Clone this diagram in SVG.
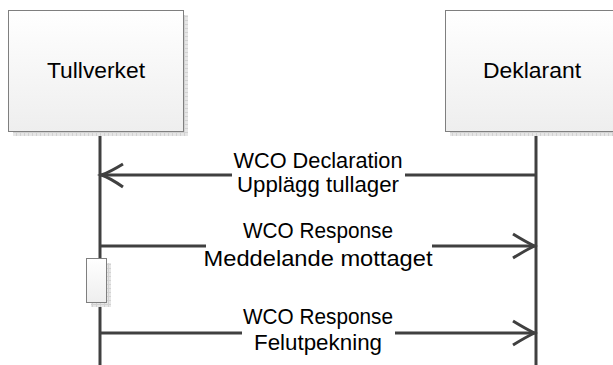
<svg xmlns="http://www.w3.org/2000/svg" width="613" height="365" viewBox="0 0 613 365">
  <defs>
    <linearGradient id="boxFill" x1="0" y1="0" x2="0" y2="1">
      <stop offset="0" stop-color="#ffffff"/>
      <stop offset="1" stop-color="#eeeeee"/>
    </linearGradient>
    <pattern id="shadowHatch" width="4" height="4" patternUnits="userSpaceOnUse">
      <rect width="4" height="4" fill="#e6e6e6"/>
      <path d="M0 0.5H4M0.5 0V4" stroke="#d2d2d2" stroke-width="1"/>
    </pattern>
  </defs>
  <style>
    .box { fill: url(#boxFill); stroke: #7f7f7f; stroke-width: 1; }
    .shadow { fill: url(#shadowHatch); }
    .life { stroke: #404040; stroke-width: 3; fill: none; }
    .msg { stroke: #404040; stroke-width: 3; fill: none; }
    .head { stroke: #404040; stroke-width: 3; fill: none; stroke-linecap: butt; }
    .lbl { font-family: "Liberation Sans", Arial, sans-serif; font-size: 22.5px; fill: #000; text-anchor: middle; }
    .bg { fill: #ffffff; }
  </style>
  <rect width="613" height="365" fill="#ffffff"/>

  <g id="connectors">
    <g id="lifeline-tullverket"><line class="life" x1="100" y1="131" x2="100" y2="365"/></g>
    <g id="lifeline-deklarant"><line class="life" x1="536" y1="131" x2="536" y2="365"/></g>

    <g id="msg1">
      <line class="msg" x1="536" y1="175" x2="101" y2="175"/>
      <path class="head" d="M123 164 Q110 172 101.5 175 Q110 178 123 187"/>
      <rect class="bg" x="232" y="150" width="173" height="48"/>
      <text class="lbl" x="318" y="168" textLength="169" lengthAdjust="spacingAndGlyphs">WCO Declaration</text>
      <text class="lbl" x="318" y="192" textLength="162" lengthAdjust="spacingAndGlyphs">Upplägg tullager</text>
    </g>

    <g id="msg2">
      <line class="msg" x1="100" y1="246" x2="535" y2="246"/>
      <path class="head" d="M513 234 Q526 242 534.5 246 Q526 250 513 258"/>
      <rect class="bg" x="206" y="220" width="226" height="50"/>
      <text class="lbl" x="318" y="238" textLength="150" lengthAdjust="spacingAndGlyphs">WCO Response</text>
      <text class="lbl" x="318" y="266" textLength="229" lengthAdjust="spacingAndGlyphs">Meddelande mottaget</text>
    </g>

    <g id="msg3">
      <line class="msg" x1="100" y1="333" x2="535" y2="333"/>
      <path class="head" d="M513 321 Q526 329 534.5 333 Q526 337 513 345"/>
      <rect class="bg" x="242" y="306" width="153" height="50"/>
      <text class="lbl" x="318" y="324" textLength="150" lengthAdjust="spacingAndGlyphs">WCO Response</text>
      <text class="lbl" x="318" y="350" textLength="128" lengthAdjust="spacingAndGlyphs">Felutpekning</text>
    </g>
  </g>

  <g id="tullverket">
    <rect class="shadow" x="13" y="15" width="175" height="121"/>
    <rect class="box" x="8.5" y="10.5" width="175" height="121"/>
    <text class="lbl" x="96" y="78" textLength="98" lengthAdjust="spacingAndGlyphs">Tullverket</text>
  </g>

  <g id="deklarant">
    <rect class="shadow" x="450" y="15" width="175" height="121"/>
    <rect class="box" x="445.5" y="10.5" width="175" height="121"/>
    <text class="lbl" x="532" y="78" textLength="98" lengthAdjust="spacingAndGlyphs">Deklarant</text>
  </g>

  <g id="activation">
    <rect class="shadow" x="91" y="263" width="20" height="44"/>
    <rect class="box" x="86.5" y="258.5" width="20" height="44"/>
  </g>
</svg>
